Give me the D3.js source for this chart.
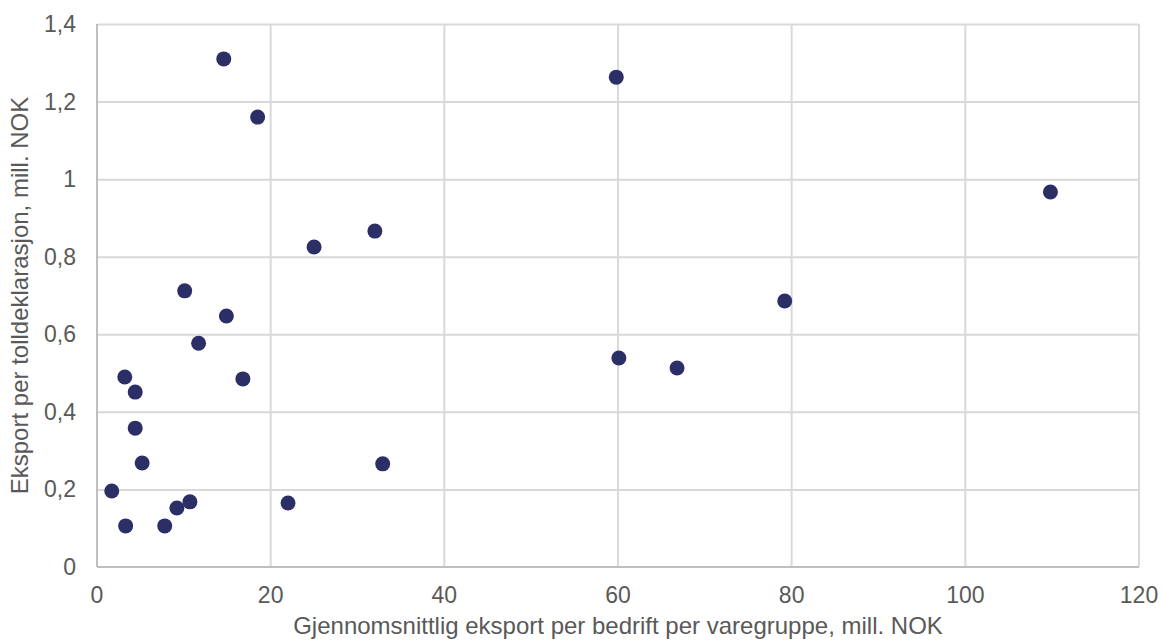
<!DOCTYPE html>
<html>
<head>
<meta charset="utf-8">
<script src="https://cdn.jsdelivr.net/npm/d3@7"></script>
<style>
  html, body { margin: 0; padding: 0; background: #fff; }
  svg { display: block; }
  text { font-family: "Liberation Sans", Arial, sans-serif; fill: #595959; }
</style>
</head>
<body>
<svg id="chart" width="1162" height="644"></svg>
<script>
const xValues = [14.6, 18.5, 59.8, 109.8, 25.0, 32.0, 79.2, 10.1, 14.9, 11.7, 16.8, 60.1, 66.8, 3.2, 4.4, 4.4, 5.2, 32.9, 1.7, 10.7, 9.2, 22.0, 3.3, 7.8];
const yValues = [1.310, 1.160, 1.263, 0.967, 0.825, 0.866, 0.686, 0.712, 0.647, 0.577, 0.485, 0.539, 0.513, 0.490, 0.451, 0.358, 0.268, 0.266, 0.196, 0.168, 0.152, 0.165, 0.106, 0.106];
const xTicks = [0, 20, 40, 60, 80, 100, 120];
const yTicks = [0, 0.2, 0.4, 0.6, 0.8, 1.0, 1.2, 1.4];
const xTitle = "Gjennomsnittlig eksport per bedrift per varegruppe, mill. NOK";
const yTitle = "Eksport per tolldeklarasjon, mill. NOK";

const svg = d3.select("#chart");
const m = { left: 97, right: 1139, top: 24, bottom: 567 };
const x = d3.scaleLinear().domain([0, 120]).range([m.left, m.right]);
const y = d3.scaleLinear().domain([0, 1.4]).range([m.bottom, m.top]);
const fmt = v => d3.format("~g")(+v.toFixed(1)).replace(".", ",");

// gridlines
svg.append("g").selectAll("line.h").data(yTicks.filter(d => d > 0)).join("line")
  .attr("x1", m.left).attr("x2", m.right)
  .attr("y1", d => y(d) + 0.5).attr("y2", d => y(d) + 0.5)
  .attr("stroke", "#d9d9d9").attr("stroke-width", 2);
svg.append("g").selectAll("line.v").data(xTicks.filter(d => d > 0)).join("line")
  .attr("x1", d => x(d)).attr("x2", d => x(d))
  .attr("y1", m.top).attr("y2", m.bottom)
  .attr("stroke", "#d9d9d9").attr("stroke-width", 2);

// axes lines
svg.append("line").attr("x1", m.left).attr("x2", m.left).attr("y1", m.top).attr("y2", m.bottom)
  .attr("stroke", "#bfbfbf").attr("stroke-width", 2);
svg.append("line").attr("x1", m.left).attr("x2", m.right).attr("y1", m.bottom).attr("y2", m.bottom)
  .attr("stroke", "#bfbfbf").attr("stroke-width", 2);

// tick labels
svg.append("g").selectAll("text").data(yTicks).join("text")
  .attr("x", 76).attr("y", d => y(d)).attr("dy", "0.35em")
  .attr("text-anchor", "end").attr("font-size", 23)
  .text(fmt);
svg.append("g").selectAll("text").data(xTicks).join("text")
  .attr("x", d => x(d)).attr("y", 603)
  .attr("text-anchor", "middle").attr("font-size", 23)
  .text(fmt);

// titles
svg.append("text").attr("x", (m.left + m.right) / 2).attr("y", 634)
  .attr("text-anchor", "middle").attr("font-size", 24).text(xTitle);
svg.append("text").attr("transform", `translate(28,${(m.top + m.bottom) / 2}) rotate(-90)`)
  .attr("text-anchor", "middle").attr("font-size", 24).text(yTitle);

// points
svg.append("g").selectAll("circle").data(xValues.map((v, i) => [v, yValues[i]])).join("circle")
  .attr("cx", d => x(d[0])).attr("cy", d => y(d[1])).attr("r", 7.5)
  .attr("fill", "#2b2f66");
</script>
</body>
</html>
